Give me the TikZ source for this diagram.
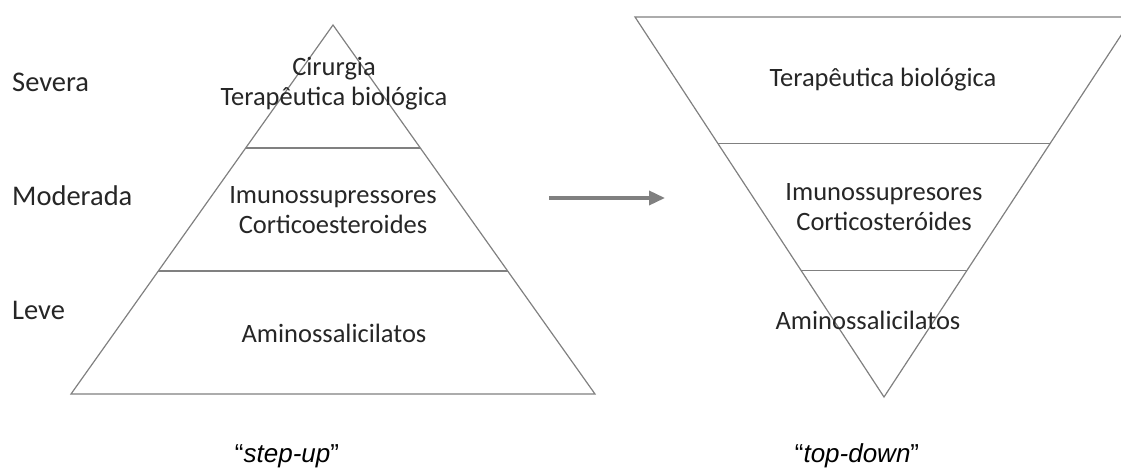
\documentclass[tikz,border=0pt]{standalone}
\usepackage{fontspec}
\setmainfont{Carlito}
\newfontfamily\capfont{Liberation Sans}
\usetikzlibrary{positioning,calc,arrows.meta}
\definecolor{linegray}{RGB}{128,128,128}
\definecolor{txtgray}{RGB}{38,38,38}
\tikzset{
  level/.style={font=\fontsize{26.5}{30}\selectfont,text=txtgray,align=center,inner sep=0pt},
  sidelabel/.style={level,font=\fontsize{28.5}{32}\selectfont,anchor=west},
  caption/.style={font=\capfont\fontsize{26}{30}\selectfont,inner sep=0pt},
  edge/.style={linegray,line width=1.2pt},
}

\begin{document}
\begin{tikzpicture}[x=1pt,y=-1pt]
\clip (0,0) rectangle (1121,468);
%\draw[help lines,step=50] (0,0) grid (1121,468);
% step-up
\coordinate (topL) at (333,25);
\coordinate (baseLa) at (71,394);
\coordinate (baseLb) at (595,394);
\draw[edge] (baseLa) -- (topL) -- (baseLb) -- cycle;
\draw[edge] ($(topL)!1/3!(baseLa)$) -- ($(topL)!1/3!(baseLb)$);
\draw[edge] ($(topL)!2/3!(baseLa)$) -- ($(topL)!2/3!(baseLb)$);
\node[sidelabel] (severa) at (12,82) {Severa};
\node[sidelabel] (moderada) at (12,196) {Moderada};
\node[sidelabel] (leve) at (12,310) {Leve};
\node[level] (biolL) at (334,84) {Cirurgia\\Terapêutica biológica};
\node[level] (imunoL) at (333,210) {Imunossupressores\\Corticoesteroides};
\node[level] (aminoL) at (334,333) {Aminossalicilatos};
\node[caption] (stepup) at (287,456) {“\textit{step-up}”};
% top-down
\coordinate (botR) at (884,397);
\coordinate (topRa) at (635,17);
\coordinate (topRb) at (1133,17);
\draw[edge] (topRa) -- (botR) -- (topRb) -- cycle;
\draw[edge] ($(topRa)!1/3!(botR)$) -- ($(topRb)!1/3!(botR)$);
\draw[edge] ($(topRa)!2/3!(botR)$) -- ($(topRb)!2/3!(botR)$);
\node[level] (biolR) at (883,80) {Terapêutica biológica};
\node[level] (imunoR) at (884,207) {Imunossupresores\\Corticosteróides};
\node[level] (aminoR) at (868,320) {Aminossalicilatos};
\node[caption] (topdown) at (857,456) {“\textit{top-down}”};
% arrow
\coordinate (arrS) at (549,198);
\coordinate (arrE) at (665,198);
\draw[-{Triangle[length=16pt,width=14pt]},linegray,line width=3.5pt] (arrS) -- (arrE);
\end{tikzpicture}
\end{document}
